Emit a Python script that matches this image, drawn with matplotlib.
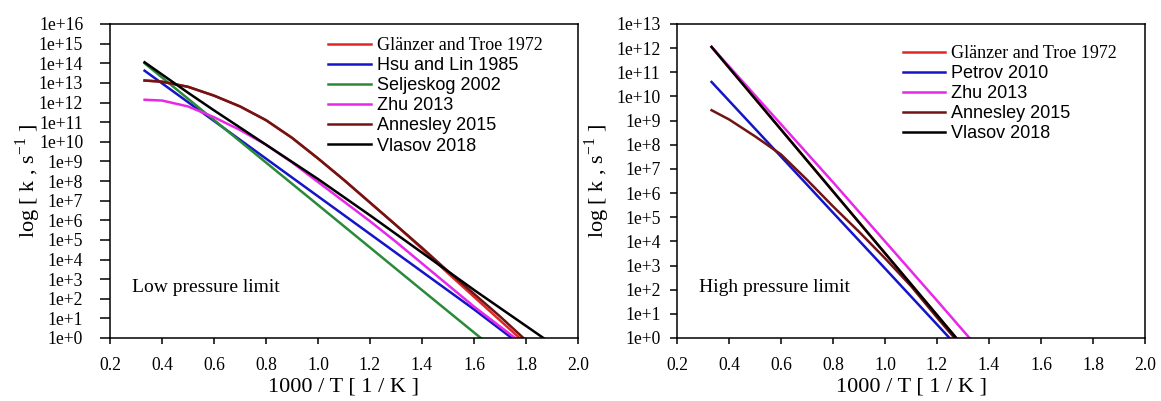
import numpy as np
import matplotlib
matplotlib.use("Agg")
import matplotlib.pyplot as plt
from matplotlib.ticker import FixedLocator, FuncFormatter, NullLocator

plt.rcParams["font.family"] = "Liberation Serif"
plt.rcParams["mathtext.fontset"] = "stix"

# ---------- data: log10 k vs 1000/T ----------
# Low pressure limit
lo_red_x = [0.333, 0.4, 0.5, 0.6, 0.7, 0.8, 0.9, 1.0, 1.1, 1.2, 1.3, 1.4, 1.5, 1.6, 1.7, 1.775]
lo_red_y = [13.12, 13.06, 12.8, 12.35, 11.8, 11.1, 10.2, 9.15, 8.05, 6.9, 5.75, 4.55, 3.3, 2.1, 0.9, 0.0]

lo_blue_x = [0.333, 0.6, 0.8, 1.0, 1.2, 1.4, 1.6, 1.745]
lo_blue_y = [13.62, 11.06, 9.14, 7.22, 5.3, 3.38, 1.46, 0.0]

lo_green_x = [0.333, 0.6, 0.8, 1.0, 1.2, 1.4, 1.626]
lo_green_y = [14.0, 11.11, 8.94, 6.78, 4.61, 2.44, 0.0]

lo_zhu_x = [0.333, 0.4, 0.5, 0.6, 0.7, 0.8, 0.9, 1.0, 1.1, 1.2, 1.3, 1.4, 1.5, 1.6, 1.758]
lo_zhu_y = [12.14, 12.1, 11.8, 11.25, 10.6, 9.85, 8.95, 7.95, 6.95, 5.95, 4.9, 3.8, 2.7, 1.6, 0.0]

lo_ann_x = [0.333, 0.4, 0.5, 0.6, 0.7, 0.8, 0.9, 1.0, 1.1, 1.2, 1.3, 1.4, 1.5, 1.6, 1.7, 1.79]
lo_ann_y = [13.12, 13.06, 12.8, 12.35, 11.8, 11.1, 10.2, 9.15, 8.05, 6.9, 5.75, 4.6, 3.4, 2.25, 1.1, 0.0]

lo_vla_x = [0.333, 0.5, 0.6, 0.8, 1.0, 1.2, 1.4, 1.6, 1.867]
lo_vla_y = [14.05, 12.5, 11.6, 9.85, 8.1, 6.25, 4.35, 2.45, 0.0]

# High pressure limit
hi_red_x = [0.333, 0.6, 0.8, 1.0, 1.2, 1.274]
hi_red_y = [12.05, 8.63, 6.07, 3.51, 0.95, 0.0]

hi_pet_x = [0.333, 0.6, 0.8, 1.0, 1.2, 1.248]
hi_pet_y = [10.6, 7.51, 5.19, 2.88, 0.56, 0.0]

hi_zhu_x = [0.333, 0.6, 0.8, 1.0, 1.2, 1.325]
hi_zhu_y = [12.05, 8.85, 6.45, 4.0, 1.55, 0.0]

hi_ann_x = [0.333, 0.4, 0.5, 0.6, 0.7, 0.8, 0.9, 1.0, 1.1, 1.2, 1.267]
hi_ann_y = [9.43, 9.05, 8.35, 7.6, 6.55, 5.45, 4.4, 3.3, 2.15, 0.85, 0.0]

hi_vla_x = [0.333, 0.6, 0.8, 1.0, 1.2, 1.274]
hi_vla_y = [12.05, 8.63, 6.07, 3.51, 0.95, 0.0]

c_red = "#e02828"
c_blue = "#1414c8"
c_green = "#2a8a38"
c_mag = "#e828e8"
c_brown = "#701414"
c_black = "#000000"

lo_series = [
    (lo_red_x, lo_red_y, c_red, "Glänzer and Troe 1972"),
    (lo_blue_x, lo_blue_y, c_blue, "Hsu and Lin 1985"),
    (lo_green_x, lo_green_y, c_green, "Seljeskog 2002"),
    (lo_zhu_x, lo_zhu_y, c_mag, "Zhu 2013"),
    (lo_ann_x, lo_ann_y, c_brown, "Annesley 2015"),
    (lo_vla_x, lo_vla_y, c_black, "Vlasov 2018"),
]
hi_series = [
    (hi_red_x, hi_red_y, c_red, "Glänzer and Troe 1972"),
    (hi_pet_x, hi_pet_y, c_blue, "Petrov 2010"),
    (hi_zhu_x, hi_zhu_y, c_mag, "Zhu 2013"),
    (hi_ann_x, hi_ann_y, c_brown, "Annesley 2015"),
    (hi_vla_x, hi_vla_y, c_black, "Vlasov 2018"),
]


def draw_panel(ax, series, ymax, note, leg_anchor, tick_len, tick_pad):
    for xs, ys, col, lab in series:
        ax.plot(xs, 10.0 ** np.array(ys), color=col, lw=1.8, label=lab)
    ax.set_yscale("log")
    ax.set_xlim(0.2, 2.0)
    ax.set_ylim(1, 10.0 ** ymax)
    ax.yaxis.set_major_locator(FixedLocator([10.0 ** k for k in range(ymax + 1)]))
    ax.yaxis.set_major_formatter(FuncFormatter(lambda v, p: "1e+%d" % round(np.log10(v))))
    ax.yaxis.set_minor_locator(NullLocator())
    ax.set_xticks(np.arange(0.2, 2.01, 0.2))
    ax.xaxis.set_major_formatter(FuncFormatter(lambda v, p: "%.1f" % v))
    ax.tick_params(axis="y", direction="out", length=tick_len, width=1.1, pad=tick_pad, labelsize=12.7)
    ax.tick_params(axis="x", direction="out", length=4.5, width=1.1, pad=9.5, labelsize=12.7)
    for sp in ax.spines.values():
        sp.set_linewidth(1.1)

    ax.set_xlabel("1000 / T [ 1 / K ]", fontsize=16, va="center")
    ax.xaxis.set_label_coords(0.5, -0.156)
    ax.set_ylabel(r"log [ k , s$^{\mathregular{-1}}$ ]", fontsize=16, va="center")

    ax.text(0.047, 0.16, note, transform=ax.transAxes, fontsize=14, va="center")

    leg = ax.legend(loc="upper left", bbox_to_anchor=leg_anchor, frameon=False,
                    prop={"family": "Liberation Sans", "size": 13},
                    handlelength=2.35, handletextpad=0.35, labelspacing=0.17,
                    borderpad=0, borderaxespad=0)
    leg.get_texts()[0].set_fontfamily("Liberation Serif")
    return leg


fig = plt.figure(figsize=(11.61, 4.01), dpi=100)
ax1 = fig.add_axes([110 / 1161, 63 / 401, 468 / 1161, 314 / 401])
ax2 = fig.add_axes([677 / 1161, 63 / 401, 468 / 1161, 314 / 401])

draw_panel(ax1, lo_series, 16, "Low pressure limit", (0.466, 0.958), 7.2, 12.0)
ax1.yaxis.set_label_coords(-0.175, 0.5)

draw_panel(ax2, hi_series, 13, "High pressure limit", (0.482, 0.933), 5.4, 6.5)
ax2.yaxis.set_label_coords(-0.171, 0.5)

fig.savefig("out.png", dpi=100)
